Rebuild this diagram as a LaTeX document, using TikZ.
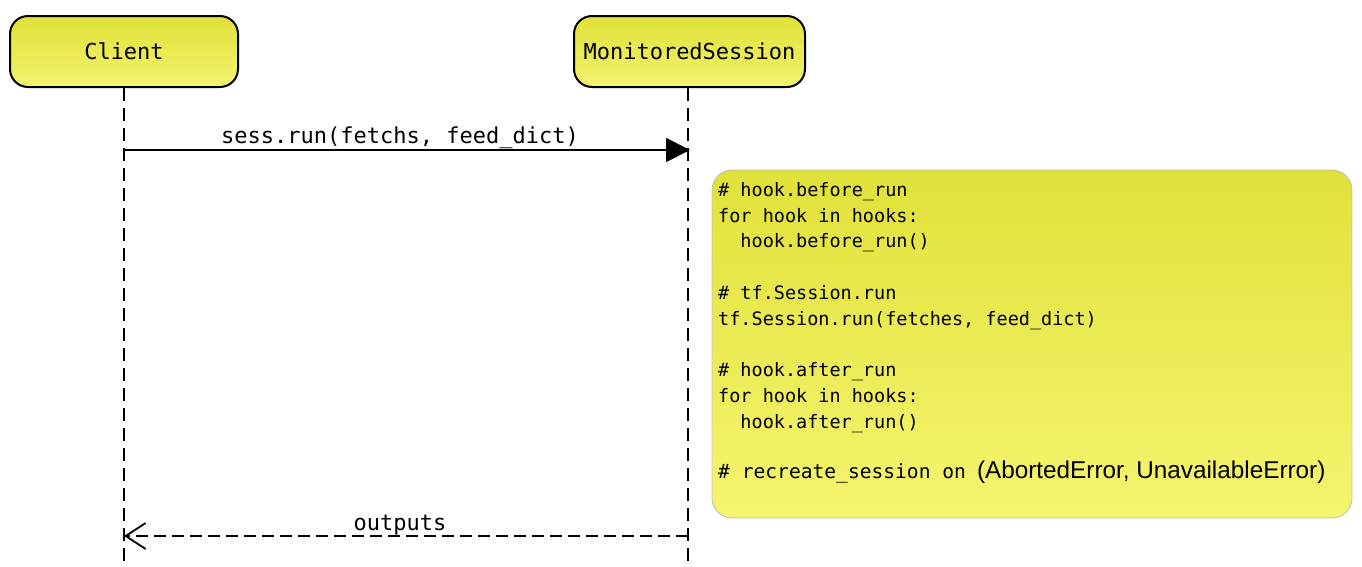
\documentclass[tikz,border=0pt]{standalone}
\usepackage{fontspec}
\setmonofont{DejaVu Sans Mono}
\newfontfamily\notesans{Liberation Sans}
\usetikzlibrary{arrows.meta}
\definecolor{ytop}{RGB}{225,225,58}
\definecolor{ybot}{RGB}{243,243,110}
\definecolor{ntop}{RGB}{225,225,58}
\definecolor{nbot}{RGB}{245,245,112}
\tikzset{
  actor/.style={draw=black, line width=2pt, rounded corners=18pt, top color=ytop, bottom color=ybot,
    minimum height=71pt, inner sep=0pt, font=\ttfamily\fontsize{22}{26}\selectfont},
  lifeline/.style={line width=1.8pt, dash pattern=on 13pt off 7pt},
  msg/.style={line width=1.8pt, -{Triangle[length=24pt,width=24pt]}},
  ret/.style={line width=1.8pt, dash pattern=on 12pt off 6pt, -{Straight Barb[length=20pt,width=26pt,line width=1.8pt]}},
  msglabel/.style={font=\ttfamily\fontsize{22}{26}\selectfont, inner sep=0pt, anchor=base},
  notebox/.style={draw=black!25, line width=0.8pt, rounded corners=20pt, top color=ntop, bottom color=nbot},
  notetext/.style={font=\ttfamily\fontsize{18.5}{25.8}\selectfont, align=left, inner sep=0pt, anchor=north west}
}
\begin{document}
\begin{tikzpicture}[x=1pt,y=-1pt]
\useasboundingbox (0,0) rectangle (1362,566);
% actors
\node[actor, minimum width=228pt] (client) at (124,51.5) {Client};
\node[actor, minimum width=231pt] (sess) at (689.5,51.5) {MonitoredSession};
% lifelines
\coordinate (cEnd) at (124,566);
\coordinate (sEnd) at (688,566);
\draw[lifeline] (client.south) -- (cEnd);
\draw[lifeline] ([xshift=-1.5pt]sess.south) -- (sEnd);
% call
\coordinate (c1) at (124,150);
\coordinate (s1) at (690,150);
\draw[msg] (c1) -- (s1);
\node[msglabel] (l1) at (400,143) {sess.run(fetchs, feed\_dict)};
% note
\node[notebox, minimum width=640pt, minimum height=348pt, inner sep=0pt] (note) at (1032,344) {};
\node[notetext] (notetxt) at (718,178) {%
\strut\# hook.before\_run\\
\strut for hook in hooks:\\
\strut\phantom{xx}hook.before\_run()\\
\strut\\
\strut\# tf.Session.run\\
\strut tf.Session.run(fetches, feed\_dict)\\
\strut\\
\strut\# hook.after\_run\\
\strut for hook in hooks:\\
\strut\phantom{xx}hook.after\_run()\\
\strut\\[-2pt]
\strut{\fontsize{19.6}{25.8}\selectfont\# recreate\_session on}\hspace{11pt}{\notesans\fontsize{24.3}{25.8}\selectfont(AbortedError, UnavailableError)}};
% return
\coordinate (s2) at (688,536);
\coordinate (c2) at (124,536);
\draw[ret] (s2) -- (c2);
\node[msglabel] (l2) at (400,530) {outputs};
\end{tikzpicture}
\end{document}
